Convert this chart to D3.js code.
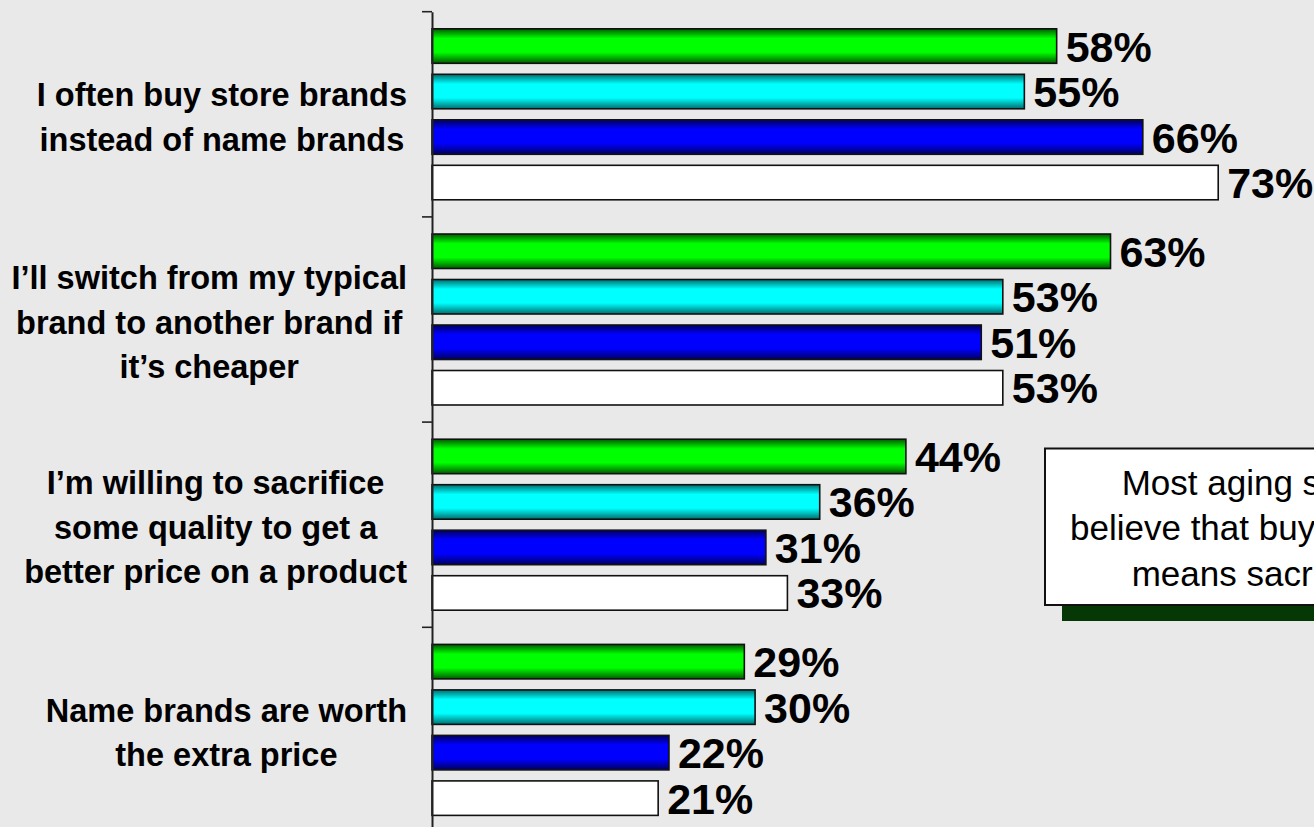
<!DOCTYPE html>
<html>
<head>
<meta charset="utf-8">
<script src="https://cdn.jsdelivr.net/npm/d3@7"></script>
<style>
  html, body { margin: 0; padding: 0; background: #e9e9e9; overflow: hidden; }
  svg { display: block; font-family: "Liberation Sans", Arial, sans-serif; }
</style>
</head>
<body>
<div id="chart"></div>
<script>
// categories (one label per line)
const categories = [
  ['I often buy store brands', 'instead of name brands'],
  ['I\u2019ll switch from my typical', 'brand to another brand if', 'it\u2019s cheaper'],
  ['I\u2019m willing to sacrifice', 'some quality to get a', 'better price on a product'],
  ['Name brands are worth', 'the extra price']
];

// four series, same order as categories
const seriesGreen = [58, 63, 44, 29];
const seriesCyan  = [55, 53, 36, 30];
const seriesBlue  = [66, 51, 31, 22];
const seriesWhite = [73, 53, 33, 21];

const seriesKeys = ['green', 'cyan', 'blue', 'white'];
const calloutLines = ['Most aging shoppers', 'believe that buying store brands', 'means sacrificing quality'];

const width = 1314, height = 827;

const svg = d3.select('#chart')
  .append('svg')
  .attr('width', width)
  .attr('height', height);

// gradients for the shaded bars
const defs = svg.append('defs');
const shades = {
  green: ['#005a00', '#00ff00'],
  cyan:  ['#006e6e', '#00ffff'],
  blue:  ['#000060', '#0000ff']
};
Object.entries(shades).forEach(([k, [dark, bright]]) => {
  const g = defs.append('linearGradient')
    .attr('id', 'grad-' + k)
    .attr('x1', 0).attr('y1', 0).attr('x2', 0).attr('y2', 1);
  g.append('stop').attr('offset', '0%').attr('stop-color', dark);
  g.append('stop').attr('offset', '28%').attr('stop-color', bright);
  g.append('stop').attr('offset', '68%').attr('stop-color', bright);
  g.append('stop').attr('offset', '100%').attr('stop-color', dark);
});
const fillFor = k => k === 'white' ? '#ffffff' : `url(#grad-${k})`;

const data = categories.map((c, i) => ({
  label: c,
  values: [seriesGreen[i], seriesCyan[i], seriesBlue[i], seriesWhite[i]]
}));

const x = d3.scaleLinear()
  .domain([0, 100])
  .range([432, 1509]);

const y0 = d3.scaleBand()
  .domain(d3.range(categories.length))
  .range([11.7, 832.5])
  .padding(0);

const y1 = d3.scaleBand()
  .domain(seriesKeys)
  .range([0, y0.bandwidth()])
  .paddingInner(0.242)
  .paddingOuter(0.376);

// bars
const groups = svg.selectAll('g.grp')
  .data(data)
  .enter()
  .append('g')
  .attr('class', 'grp')
  .attr('transform', (d, i) => `translate(0,${y0(i)})`);

groups.selectAll('rect')
  .data(d => d.values.map((v, j) => ({ key: seriesKeys[j], value: v })))
  .enter()
  .append('rect')
  .attr('x', x(0))
  .attr('y', d => y1(d.key))
  .attr('width', d => x(d.value) - x(0))
  .attr('height', y1.bandwidth())
  .attr('fill', d => fillFor(d.key))
  .attr('stroke', '#111')
  .attr('stroke-width', 1.6);

groups.selectAll('text.val')
  .data(d => d.values.map((v, j) => ({ key: seriesKeys[j], value: v })))
  .enter()
  .append('text')
  .attr('class', 'val')
  .attr('x', d => x(d.value) + 9)
  .attr('y', d => y1(d.key) + y1.bandwidth() / 2 + 15.5)
  .attr('font-size', 43)
  .attr('font-weight', 'bold')
  .attr('fill', '#000')
  .text(d => d.value + '%');

// axis
const axis = d3.axisLeft(y0)
  .tickValues([])
  .tickSizeOuter(0);
const axisG = svg.append('g')
  .attr('transform', `translate(${x(0)},0)`)
  .call(axis);
axisG.select('.domain').attr('stroke', '#222').attr('stroke-width', 2);
axisG.selectAll('.edge')
  .data(d3.range(categories.length + 1))
  .enter()
  .append('line')
  .attr('x1', -10).attr('x2', 0)
  .attr('y1', i => i < categories.length ? y0(i) : y0.range()[1])
  .attr('y2', i => i < categories.length ? y0(i) : y0.range()[1])
  .attr('stroke', '#222')
  .attr('stroke-width', 1.6);

// category labels: block right-aligned, lines centred inside the block
const lineH = 44.5;
const labelRight = 407;
data.forEach((d, i) => {
  const cy = y0(i) + y0.bandwidth() / 2;
  const n = d.label.length;
  const t = svg.append('g');
  const texts = t.selectAll('text')
    .data(d.label)
    .enter()
    .append('text')
    .attr('y', (s, k) => cy + (k - (n - 1) / 2) * lineH + 14)
    .attr('font-size', 32.5)
    .attr('font-weight', 'bold')
    .attr('text-anchor', 'middle')
    .attr('fill', '#000')
    .text(s => s);
  let maxW = 0;
  texts.each(function () { maxW = Math.max(maxW, this.getComputedTextLength()); });
  texts.attr('x', labelRight - maxW / 2);
});

// callout box (runs off the right edge, as in the original slide)
const box = svg.append('g');
box.append('rect')
  .attr('x', 1062).attr('y', 464)
  .attr('width', 400).attr('height', 157)
  .attr('fill', '#053805');
box.append('rect')
  .attr('x', 1045).attr('y', 448.5)
  .attr('width', 400).attr('height', 156.5)
  .attr('fill', '#fff')
  .attr('stroke', '#111')
  .attr('stroke-width', 2);
const calloutX = [1121.7, 1070, 1131.7];
box.selectAll('text')
  .data(calloutLines)
  .enter()
  .append('text')
  .attr('x', (s, k) => calloutX[k])
  .attr('y', (s, k) => 495 + k * 45.4)
  .attr('font-size', 35)
  .attr('fill', '#000')
  .text(s => s);
</script>
</body>
</html>
